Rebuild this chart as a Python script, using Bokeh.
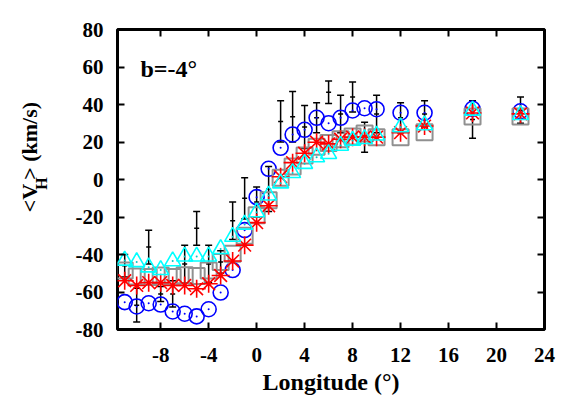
from math import pi
from bokeh.plotting import figure
from bokeh.layouts import row
from bokeh.models import (Range1d, FixedTicker, LinearAxis, Label, Whisker, TeeHead, Title,
                          ColumnDataSource, CustomJSTickFormatter)
from bokeh.core.properties import value
from bokeh.embed import file_html
from bokeh.resources import INLINE

# ---- data -------------------------------------------------------------
longitude = [-11, -10, -9, -8, -7, -6, -5, -4, -3, -2, -1, 0, 1, 2, 3, 4, 5, 6, 7, 8, 9, 10, 12, 14, 18, 22]
v_obs = [-46, -67, -36, -61, -61, -45, -26, -45, -44, -22, -10, -12, -5, 31, 33.5, 28, 33, 46.5, 35, 44, 22.5, 35, 33, 35, 32, 37]
err_obs = [6, 9, 9, 4, 7, 10, 9, 10, 6, 10, 11, 8, 12, 11, 13.5, 11.5, 8, 6, 10, 8, 8, 10, 8, 7, 10, 7]
v_blue = [-65.4, -67.7, -66, -66.7, -70.4, -71.6, -73, -69.2, -60.3, -48.3, -27, -9.4, 5.7, 16.9, 24, 26.5,
          32.9, 30, 32.9, 36.8, 38, 37.5, 35.6, 35.6, 37.7, 36.4]
v_red = [-54, -56.5, -55, -55, -56.5, -56.5, -58.3, -55.6, -51.2, -43.5, -35, -23, -14, 1.5, 9, 14,
         19.9, 19, 21.5, 22.6, 22.6, 22.6, 25, 28.5, 35.5, 35]
v_gray = [-48.5, -51.7, -52, -51.2, -52, -51, -51.5, -48.5, -44, -39.6, -30, -19, -11, 1, 7, 12.8,
          17.5, 19.5, 21.5, 22.9, 24.5, 22.5, 22.6, 25.2, 33.6, 33.6]
v_cyan = [-43.2, -44, -46.8, -48.2, -43.5, -41, -41, -41, -37, -30.5, -24, -17.4, -8.5, -2, 3.5, 8.4,
          11.9, 13.7, 18.1, 20.8, 21.7, 23.5, 27.9, 29, 36.8, 34.5]
x_ticks = [-8, -4, 0, 4, 8, 12, 16, 20, 24]
y_ticks = [-80, -60, -40, -20, 0, 20, 40, 60, 80]
x_lim = (-11.6, 24)
y_lim = (-80, 80)

FONT = "Liberation Serif"

W, H = 581, 407
LEFT_W = 60
MAIN_W = W - LEFT_W

p = figure(width=MAIN_W, height=H, output_backend="svg", toolbar_location=None,
           x_range=Range1d(*x_lim), y_range=Range1d(*y_lim),
           min_border_left=117 - LEFT_W, min_border_right=W - 544,
           min_border_top=29, min_border_bottom=H - 329)
p.grid.visible = False
p.outline_line_color = "black"
p.outline_line_width = 3

plain = CustomJSTickFormatter(code="return tick.toString()")
empty = CustomJSTickFormatter(code="return ''")

def style_axis(ax, ticks, labels=True, standoff=10):
    ax.ticker = FixedTicker(ticks=ticks)
    ax.axis_line_color = None
    ax.major_tick_in = 7
    ax.major_tick_out = 0
    ax.major_tick_line_width = 2
    ax.major_tick_line_color = "black"
    ax.minor_tick_line_color = None
    ax.major_label_text_font = FONT
    ax.major_label_text_font_style = "bold"
    ax.major_label_text_font_size = "21px"
    ax.major_label_text_color = "black"
    ax.major_label_standoff = standoff
    ax.formatter = plain if labels else empty

style_axis(p.xaxis[0], x_ticks, standoff=18)
style_axis(p.yaxis[0], y_ticks, standoff=14)
top = LinearAxis()
style_axis(top, x_ticks, labels=False)
right = LinearAxis()
style_axis(right, y_ticks, labels=False)
p.add_layout(top, "above")
p.add_layout(right, "right")

p.add_layout(Title(text="Longitude (°)", align="center", text_font=FONT, text_font_style="bold",
                   text_font_size="24px", text_color="black", standoff=5), "below")

# ---- error bars -------------------------------------------------------
src = ColumnDataSource(dict(x=longitude, v=v_obs,
                            upper=[v + e for v, e in zip(v_obs, err_obs)],
                            lower=[v - e for v, e in zip(v_obs, err_obs)]))
w = Whisker(source=src, base="x", upper="upper", lower="lower",
            line_color="black", line_width=1.5,
            upper_head=TeeHead(size=7, line_color="black", line_width=1.5),
            lower_head=TeeHead(size=7, line_color="black", line_width=1.5))
p.add_layout(w)
p.scatter("x", "v", source=src, marker="dash", size=5, line_color="black", line_width=1.5)

# ---- model series -----------------------------------------------------
p.scatter(longitude, v_blue, marker="circle", size=15, fill_color=None, line_color="#0000ff", line_width=1.6)
p.scatter(longitude, v_blue, marker="circle", size=2, fill_color="#0000ff", line_color=None)
p.scatter(longitude, v_gray, marker="square", size=16, fill_color=None, line_color="#909090", line_width=2)
p.scatter(longitude, v_red, marker="asterisk", size=18, line_color="#ff0000", line_width=1.6)
p.scatter(longitude, v_cyan, marker="triangle", size=16, fill_color=None, line_color="#00ffff", line_width=1.6)
p.scatter(longitude, v_cyan, marker="circle", size=2, fill_color="#00c8c8", line_color=None)

p.add_layout(Label(x=x_lim[0], y=y_lim[1], x_offset=23, y_offset=-39, text="b=-4°",
                   text_font=FONT, text_font_style="bold", text_font_size="24px",
                   text_color="black", text_baseline="alphabetic"))

# ---- left panel for the y-axis title (pixel coordinates) --------------
ylab = figure(width=LEFT_W, height=H, output_backend="svg", toolbar_location=None,
              x_range=Range1d(0, LEFT_W), y_range=Range1d(0, H), x_axis_type=None, y_axis_type=None,
              min_border=0, min_border_left=0, min_border_right=0, min_border_top=0, min_border_bottom=0)
ylab.grid.visible = False
ylab.outline_line_color = None
ylab.text(x=[29, 40.5, 29], y=[159, 189.5, 203], text=["<V", "H", "> (km/s)"],
          text_font=value(FONT), text_font_style="bold",
          text_font_size=["22px", "16px", "22px"], angle=pi / 2,
          text_align="left", text_baseline="alphabetic", text_color="black")

layout = row(ylab, p, spacing=0)
open("out.html", "w").write(file_html(layout, INLINE))
